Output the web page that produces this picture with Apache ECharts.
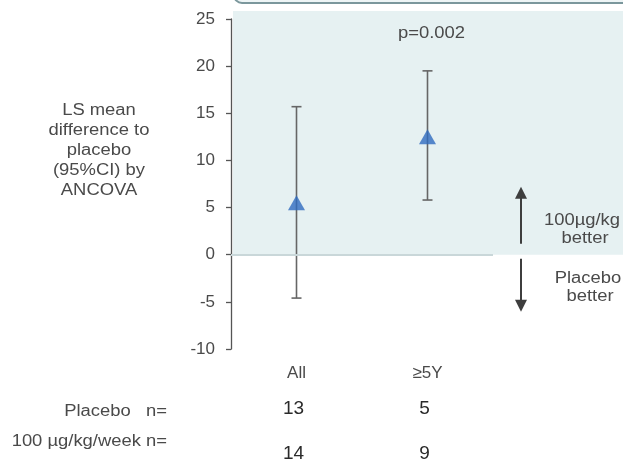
<!DOCTYPE html>
<html><head><meta charset="utf-8">
<script src="https://cdn.jsdelivr.net/npm/echarts@6/dist/echarts.min.js"></script>
<style>html,body{margin:0;padding:0;background:#fff}#c{width:623px;height:466px}</style>
</head><body><div id="c"></div>
<script>
const categories = ['All', '≥5Y'];
const meanDiff = [5.5, 12.5];
const ciLower = [-4.6, 5.8];
const ciUpper = [15.7, 19.5];
const placeboN = [13, 5];
const treatedN = [14, 9];
const yMin = -10, yMax = 25, yStep = 5;
const pValueText = 'p=0.002';
const yAxisTitle = ['LS mean', 'difference to', 'placebo', '(95%CI) by', 'ANCOVA'];
const rowLabels = ['Placebo   n=', '100 µg/kg/week n='];

const FONT = '"Liberation Sans", Arial, sans-serif';
const TXT = '#4a4a4a';
const SX = 1.15;
const chart = echarts.init(document.getElementById('c'), null, {renderer: 'canvas'});

const xs = categories.map((c, i) => i + 1);

const option = {
  animation: false,
  backgroundColor: '#fff',
  grid: {left: 231, right: 130, top: 19, bottom: 117, containLabel: false},
  xAxis: {
    type: 'value', min: 0.5, max: 2.5, interval: 0.5,
    axisLine: {show: false}, axisTick: {show: false}, splitLine: {show: false},
    axisLabel: {
      margin: 16, color: TXT, fontFamily: FONT, fontSize: 17,
      formatter: v => (Number.isInteger(v) && v >= 1 && v <= categories.length) ? categories[v - 1] : ''
    }
  },
  yAxis: {
    type: 'value', min: yMin, max: yMax, interval: yStep,
    axisLine: {show: true, lineStyle: {color: '#555', width: 1.3}},
    axisTick: {show: true, length: 5, lineStyle: {color: '#555', width: 1.3}},
    splitLine: {show: false},
    axisLabel: {margin: 16, color: TXT, fontFamily: FONT, fontSize: 17}
  },
  series: [
    {
      type: 'custom', z: 3,
      data: xs.map((x, i) => [x, ciLower[i], ciUpper[i]]),
      renderItem: function (params, api) {
        const x = api.value(0);
        const lo = api.coord([x, api.value(1)]);
        const hi = api.coord([x, api.value(2)]);
        const cap = 5;
        const st = {stroke: '#666', lineWidth: 1.6};
        return {type: 'group', children: [
          {type: 'line', shape: {x1: lo[0], y1: lo[1], x2: hi[0], y2: hi[1]}, style: st},
          {type: 'line', shape: {x1: lo[0] - cap, y1: lo[1], x2: lo[0] + cap, y2: lo[1]}, style: st},
          {type: 'line', shape: {x1: hi[0] - cap, y1: hi[1], x2: hi[0] + cap, y2: hi[1]}, style: st}
        ]};
      }
    },
    {
      type: 'scatter', z: 4,
      data: xs.map((x, i) => [x, meanDiff[i]]),
      symbol: 'triangle', symbolSize: [17, 15],
      itemStyle: {color: '#2f6bbf'},
      markLine: {
        silent: true, symbol: 'none', label: {show: false},
        lineStyle: {color: '#c9d7d9', width: 2, type: 'solid'},
        data: [{yAxis: 0}]
      }
    }
  ]
};
chart.setOption(option);

function px(x, y) { return chart.convertToPixel({gridIndex: 0}, [x, y]); }
const p0 = px(0.5, 0), pTop = px(0.5, yMax);
const axisX = p0[0];
const g = [];
function txt(t, x, y, size, color, align) {
  g.push({type: 'text', x: x, y: y, scaleX: SX, style: {text: t, font: size + 'px ' + FONT, fill: color || TXT, align: align || 'center', verticalAlign: 'middle'}});
}
// shaded "better" region
g.push({type: 'rect', z: -5, shape: {x: axisX + 2, y: pTop[1] - 8, width: 623 - axisX, height: p0[1] - pTop[1] + 8},
  style: {fill: '#e6f1f2'}});
// bottom edge of header box
g.push({type: 'rect', z: -4, shape: {x: axisX + 3, y: -30, width: 400, height: 33, r: 8},
  style: {fill: '#eef5f6', stroke: '#7b979c', lineWidth: 2}});
// p-value
const pp = px(2, yMax);
txt(pValueText, pp[0] + 4, 34, 16);
// y axis title
yAxisTitle.forEach((t, i) => txt(t, 99, 111 + i * 20, 16));
// n rows
const rowY = [[412, 409], [442, 454]];
const rowVals = [placeboN, treatedN];
rowLabels.forEach((t, r) => {
  txt(t, 167, rowY[r][0], 16, TXT, 'right');
  rowVals[r].forEach((v, i) => {
    const cx = px(xs[i], 0)[0] - 3;
    g.push({type: 'text', x: cx, y: rowY[r][1], style: {text: String(v), font: '19px ' + FONT, fill: '#2a2a2a', align: 'center', verticalAlign: 'middle'}});
  });
});
// arrows
const ax = 521, zy = p0[1];
const ac = '#3e3e3e';
g.push({type: 'line', shape: {x1: ax, y1: zy - 11, x2: ax, y2: zy - 60}, style: {stroke: ac, lineWidth: 2}});
g.push({type: 'polygon', shape: {points: [[ax, zy - 68], [ax - 6, zy - 56], [ax + 6, zy - 56]]}, style: {fill: ac}});
g.push({type: 'line', shape: {x1: ax, y1: zy + 4, x2: ax, y2: zy + 50}, style: {stroke: ac, lineWidth: 2}});
g.push({type: 'polygon', shape: {points: [[ax, zy + 57], [ax - 6, zy + 45], [ax + 6, zy + 45]]}, style: {fill: ac}});
const ann = [['100µg/kg', 582, zy - 34], ['better', 585, zy - 16], ['Placebo', 588, zy + 24], ['better', 590, zy + 42]];
ann.forEach(a => txt(a[0], a[1], a[2], 16));

chart.setOption({graphic: {elements: g}});
</script>
</body></html>
